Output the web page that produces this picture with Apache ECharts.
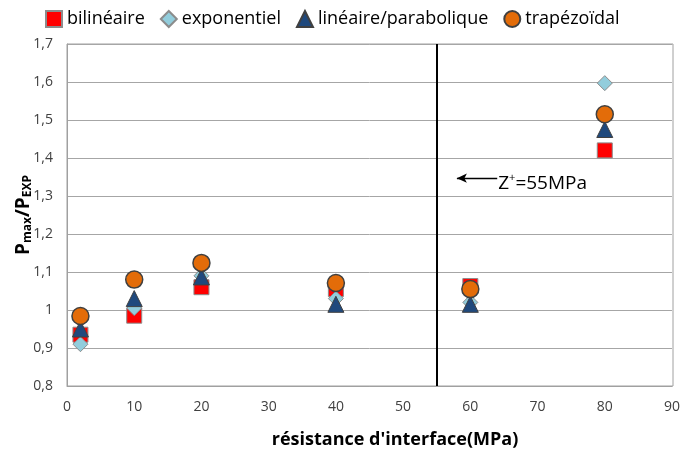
<!DOCTYPE html>
<html><head><meta charset="utf-8">
<script src="https://cdn.jsdelivr.net/npm/echarts@6/dist/echarts.min.js"></script>
<style>html,body{margin:0;padding:0;background:#fff}#c{width:683px;height:458px}</style>
</head><body><div id="c"></div>
<script>
const xValues = [2, 10, 20, 40, 60, 80];
const bilineaire = [0.935, 0.985, 1.06, 1.055, 1.063, 1.42];
const exponentiel = [0.91, 1.005, 1.09, 1.03, 1.02, 1.597];
const lineaireParabolique = [0.95, 1.03, 1.087, 1.015, 1.015, 1.475];
const trapezoidal = [0.984, 1.08, 1.124, 1.071, 1.055, 1.515];
const seriesNames = ['bilinéaire', 'exponentiel', 'linéaire/parabolique', 'trapézoïdal'];
const zLine = 55;
const arrowY = 1.347;
const arrowFrom = 64, arrowTo = 58;

const FONT = 'Open Sans';
const chart = echarts.init(document.getElementById('c'));
const pairs = arr => xValues.map((x, i) => [x, arr[i]]);

const option = {
  animation: false,
  textStyle: { fontFamily: FONT },
  grid: { left: 67, right: 10, top: 44, bottom: 72, containLabel: false },
  legend: {
    top: 5, left: 40,
    itemWidth: 16, itemHeight: 16, itemGap: 15,
    textStyle: { fontSize: 18, color: '#000', fontFamily: FONT },
    data: seriesNames
  },
  xAxis: {
    type: 'value', min: 0, max: 90, interval: 10,
    axisLine: { show: true, lineStyle: { color: '#a0a0a0' } },
    axisTick: { show: false },
    axisLabel: { fontSize: 14, color: '#404040', margin: 14, fontFamily: FONT },
    splitLine: { show: false }
  },
  yAxis: {
    type: 'value', min: 0.8, max: 1.7, interval: 0.1,
    axisLine: { show: true, lineStyle: { color: '#a0a0a0' } },
    axisTick: { show: false },
    axisLabel: { fontSize: 14, color: '#404040', margin: 14, fontFamily: FONT,
      formatter: v => (Math.round(v * 10) / 10).toString().replace('.', ',') },
    splitLine: { show: true, lineStyle: { color: '#a6a6a6', width: 1 } }
  },
  graphic: [
    { type: 'rect', shape: { x: 67, y: 44, width: 606, height: 342 }, style: { fill: 'none', stroke: '#a0a0a0', lineWidth: 1 }, silent: true, z: 0 },
    { type: 'text', x: 395, y: 440, style: { text: "résistance d'interface(MPa)", font: 'bold 18px "Open Sans"', fill: '#000', align: 'center', verticalAlign: 'middle' } },
    { type: 'text', x: 24, y: 215, rotation: Math.PI / 2,
      style: {
        text: '{b|P}{s|max}{b|/P}{s|EXP}',
        align: 'center', verticalAlign: 'middle',
        rich: {
          b: { fontSize: 19, fontWeight: 'bold', fontFamily: FONT, fill: '#000' },
          s: { fontSize: 12, fontWeight: 'bold', fontFamily: FONT, fill: '#000', verticalAlign: 'bottom', padding: [8, 0, 0, 0] }
        }
      } }
  ],
  series: [
    { name: seriesNames[0], type: 'scatter', symbol: 'rect', symbolSize: 15, data: pairs(bilineaire),
      itemStyle: { color: '#ff0000', borderColor: '#8c8c8c', borderWidth: 1, opacity: 1 },
      markLine: {
        silent: true, symbol: ['none', 'none'], animation: false,
        lineStyle: { color: '#000', width: 2, type: 'solid' }, label: { show: false },
        data: [{ xAxis: zLine }]
      }
    },
    { name: seriesNames[1], type: 'scatter', symbol: 'diamond', symbolSize: [15, 15], data: pairs(exponentiel),
      itemStyle: { color: '#92cddc', borderColor: '#8c8c8c', borderWidth: 1, opacity: 1 },
      markLine: {
        silent: true, symbol: ['none', 'arrow'], symbolSize: [7, 10], animation: false,
        lineStyle: { color: '#000', width: 1.3, type: 'solid' }, label: { show: false },
        data: [[{ coord: [arrowFrom, arrowY] }, { coord: [arrowTo, arrowY] }]]
      }
    },
    { name: seriesNames[2], type: 'scatter', symbol: 'triangle', symbolSize: [16, 16], data: pairs(lineaireParabolique),
      itemStyle: { color: '#1f497d', borderColor: '#404040', borderWidth: 1, opacity: 1 } },
    { name: seriesNames[3], type: 'scatter', symbol: 'circle', symbolSize: 17, data: pairs(trapezoidal),
      itemStyle: { color: '#e36c09', borderColor: '#404040', borderWidth: 1.5, opacity: 1 } }
  ]
};
chart.setOption(option);
const p = chart.convertToPixel({ gridIndex: 0 }, [arrowFrom, arrowY]);
chart.setOption({ graphic: option.graphic.concat([
  { type: 'text', x: p[0] + 1, y: p[1] + 5, style: {
      text: 'Z{sup|+}=55MPa', align: 'left', verticalAlign: 'middle',
      font: '19px "Open Sans"', fill: '#000',
      rich: { sup: { fontSize: 11, fontFamily: FONT, fill: '#000', verticalAlign: 'top', padding: [0, 0, 10, 0] } }
    } }
]) });
</script>
</body></html>
